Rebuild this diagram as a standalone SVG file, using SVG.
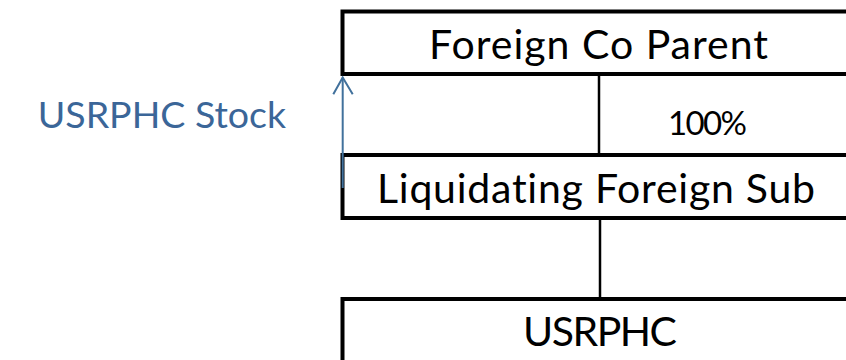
<svg xmlns="http://www.w3.org/2000/svg" width="846" height="360" viewBox="0 0 846 360">
<style>
.box{fill:#ffffff;stroke:#000000;stroke-width:4}
.t{font-family:Lato,"Liberation Sans",Arial,sans-serif;fill:#000000;text-anchor:middle;font-variant-ligatures:none}
.lbl{font-family:Lato,"Liberation Sans",Arial,sans-serif;fill:#3B6698;text-anchor:end;font-variant-ligatures:none}
.conn{stroke:#000000;stroke-width:2.5;fill:none}
.arr{stroke:#41719C;stroke-width:2;fill:none}
</style>
<rect width="846" height="360" fill="#ffffff"/>
<g id="connectors">
<line class="conn" x1="599" y1="74" x2="599" y2="155"/>
<line class="conn" x1="600" y1="218" x2="600" y2="299"/>
</g>
<g id="node-parent">
<rect class="box" x="342.5" y="11.5" width="560" height="62.5"/>
<text class="t" x="598.5" y="58.5" font-size="41" textLength="339">Foreign Co Parent</text>
</g>
<g id="label-100">
<text class="t" x="707.5" y="135" font-size="33" textLength="79">100%</text>
</g>
<g id="node-sub">
<rect class="box" x="342.5" y="155" width="560" height="63"/>
<text class="t" x="596" y="203" font-size="41" textLength="438">Liquidating Foreign Sub</text>
</g>
<g id="node-usrphc">
<rect class="box" x="342.5" y="299" width="560" height="100"/>
<text class="t" x="600" y="345.5" font-size="41" textLength="154">USRPHC</text>
</g>
<g id="stock-arrow">
<line class="arr" x1="342.7" y1="188" x2="342.7" y2="77.5"/>
<polyline class="arr" points="333.3,94.3 342.7,77.5 352.7,94.3"/>
<text class="lbl" x="286" y="128" font-size="37.5">USRPHC Stock</text>
</g>
</svg>
